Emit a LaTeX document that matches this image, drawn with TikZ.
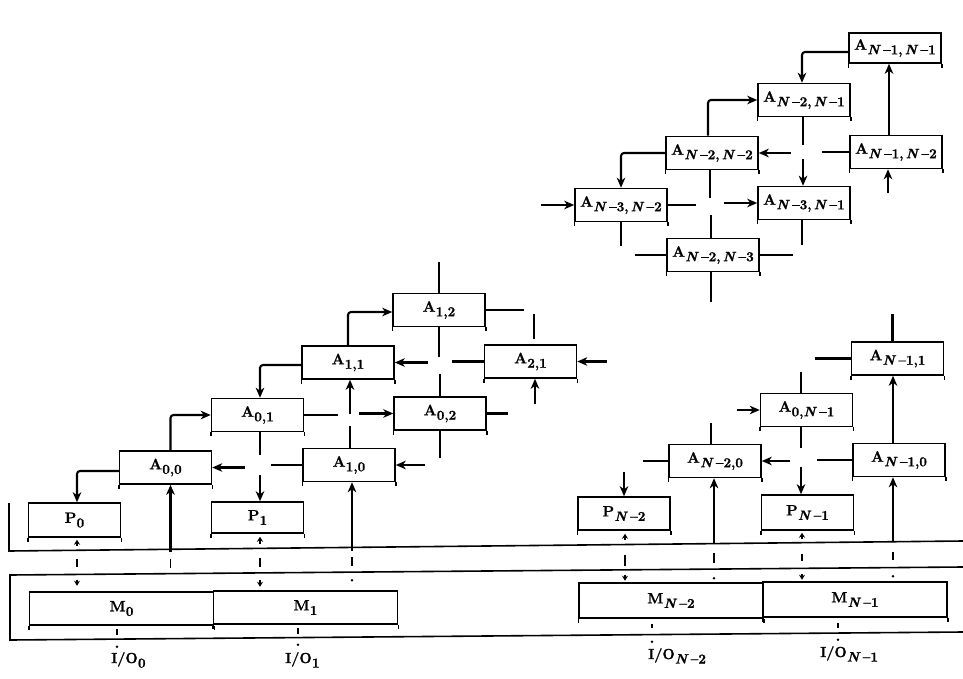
\documentclass[tikz,border=0pt]{standalone}
\usepackage{fontspec}
\setmainfont{Latin Modern Roman}[BoldFeatures={FakeBold=1.3},BoldItalicFeatures={FakeBold=1.3}]
\usetikzlibrary{arrows.meta}
\newcommand\albl[2]{{\fontsize{15}{15}\selectfont\bfseries #1}\kern0.3pt\raisebox{-4.5pt}{\fontsize{13.5}{14}\selectfont\bfseries #2}}
\newcommand\iolbl[1]{{\fontsize{14.5}{14.5}\selectfont\bfseries I/O}\kern0.3pt\raisebox{-4.5pt}{\fontsize{13.5}{13.5}\selectfont\bfseries #1}}
\newcommand\NN{\textit{N}\,\textendash}
\begin{document}
\begin{tikzpicture}[x=1pt,y=-1pt,
  >={Stealth[length=10pt,width=8.5pt,inset=3pt]},
  box/.style={draw,line width=1.5pt,minimum width=92pt,minimum height=33pt,inner sep=0pt},
  mbox/.style={box,minimum width=184pt},
  conn/.style={line width=2.1pt,rounded corners=3pt},
  bus/.style={line width=1.6pt},
  tiny/.style={line width=1.7pt,>={Stealth[length=5pt,width=6pt]}}
]
\useasboundingbox (0,0) rectangle (963,679);

% ---------- top-right cluster ----------
\node[box,minimum height=30pt] (tNN)  at (895,48)  {\albl{A}{\NN1,\,\NN1}};
\node[box] (tN2N1) at (804,100) {\albl{A}{\NN2,\,\NN1}};
\node[box] (tN2N2) at (712,153) {\albl{A}{\NN2,\,\NN2}};
\node[box] (tN1N2) at (896,152) {\albl{A}{\NN1,\,\NN2}};
\node[box] (tN3N2) at (621,205) {\albl{A}{\NN3,\,\NN2}};
\node[box] (tN3N1) at (804,203) {\albl{A}{\NN3,\,\NN1}};
\node[box] (tN2N3) at (713,255) {\albl{A}{\NN2,\,\NN3}};

% ---------- left cluster ----------
\node[box] (A00) at (165.5,467.5) {\albl{A}{0,0}};
\node[box] (A01) at (257.5,415)   {\albl{A}{0,1}};
\node[box] (A11) at (348,362.5)   {\albl{A}{1,1}};
\node[box] (A12) at (439,310)     {\albl{A}{1,2}};
\node[box] (A21) at (530.5,361.5) {\albl{A}{2,1}};
\node[box] (A02) at (440,413.5)   {\albl{A}{0,2}};
\node[box] (A10) at (349,465)     {\albl{A}{1,0}};
\node[box,minimum height=34pt] (P0) at (74.5,520)  {\albl{P}{0}};
\node[box,minimum height=31pt] (P1) at (257.5,517.5) {\albl{P}{1}};

% ---------- right lower cluster ----------
\node[box] (rN11) at (897.5,358.5) {\albl{A}{\NN1,1}};
\node[box] (rN0)  at (806.5,410)   {\albl{A}{0,\NN1}};
\node[box] (rN20) at (715,461)     {\albl{A}{\NN2,0}};
\node[box] (rN10) at (899,460)     {\albl{A}{\NN1,0}};
\node[box] (PN2)  at (624,513.5)   {\albl{P}{\NN2}};
\node[box,minimum height=35pt] (PN1) at (807.5,512.5) {\albl{P}{\NN1}};

% ---------- memories ----------
\node[mbox] (M0)  at (121.5,608.5) {\albl{M}{0}};
\node[mbox] (M1)  at (305.5,607.5) {\albl{M}{1}};
\node[mbox,minimum height=35pt] (MN2) at (671,600.5) {\albl{M}{\NN2}};
\node[mbox,minimum height=35pt] (MN1) at (855,599.5) {\albl{M}{\NN1}};

% I/O labels
\node[anchor=base west,inner sep=0pt] (io0)  at (111,663) {\iolbl{0}};
\node[anchor=base west,inner sep=0pt] (io1)  at (285,663) {\iolbl{1}};
\node[anchor=base west,inner sep=0pt] (ioN2) at (648,659) {\iolbl{\NN2}};
\node[anchor=base west,inner sep=0pt] (ioN1) at (820,657) {\iolbl{\NN1}};

% box bottom ticks
\foreach \n in {tNN,tN2N1,tN2N2,tN1N2,tN3N2,tN3N1,tN2N3,A00,A01,A11,A12,A21,A02,A10,P0,P1,rN11,rN0,rN20,rN10,PN2,PN1,M0,M1,MN2,MN1}
  \draw[line width=1.5pt] (\n.south west) -- ++(0,4) (\n.south east) -- ++(0,4);

% ---------- bus lines ----------
\draw[bus] (9,503) -- (9,551) -- (963,541);
\draw[bus] (963,567) -- (10,575) -- (10,640) -- (963,632);

% ---------- top-right connectors ----------
\draw[conn,->] ([shift={(0,4)}]tNN.west) -| ([shift={(-2,0)}]tN2N1.north);
\draw[conn,->] ([shift={(-4,0)}]tN2N2.north) |- (tN2N1.west);
\draw[conn,->] (tN2N2.west) -| (tN3N2.north);
\draw[conn,<-] (tN3N2.west) -- ++(-33,0);
\draw[conn] (tN3N2.east) -- ++(28,0);
\draw[conn,<-] (tN3N1.west) -- ++(-33,0);
\draw[conn] ([shift={(-1,0)}]tN2N1.south) -- ++(0,28);
\draw[conn,<-] ([shift={(-1,0)}]tN3N1.north) -- ++(0,-27);
\draw[conn,<-] (tN2N2.east) -- ++(32,0);
\draw[conn] (tN1N2.west) -- ++(-27,0);
\draw[conn,->] ([shift={(-7,0)}]tN1N2.north) -- ([shift={(-6,0)}]tNN.south);
\draw[conn,<-] ([shift={(-8,0)}]tN1N2.south) -- ++(0,24);
\draw[conn] ([shift={(-2,0)}]tN2N2.south) -- ++(0,28);
\draw[conn] ([shift={(-2,0)}]tN2N3.north) -- ++(0,-23);
\draw[conn] (tN3N2.south) -- ++(0,24);
\draw[conn] ([shift={(-2,0)}]tN3N1.south) -- ++(0,25);
\draw[conn] (tN2N3.west) -- ++(-31,0);
\draw[conn] (tN2N3.east) -- ++(33,0);
\draw[conn] ([shift={(-2,0)}]tN2N3.south) -- ++(0,30);

% ---------- left connectors ----------
\draw[conn,->] ([shift={(0,2.5)}]A11.west) -| ([shift={(2.5,0)}]A01.north);
\draw[conn,->] ([shift={(5,0)}]A00.north) |- (A01.west);
\draw[conn,->] ([shift={(0,3.5)}]A00.west) -| ([shift={(2.5,0)}]P0.north);
\draw[conn,<-] (A00.east) -- ++(33,0);
\draw[conn] (A10.west) -- ++(-31,0);
\draw[conn] (A01.east) -- ++(34,0);
\draw[conn,<-] (A02.west) -- ++(-34,0);
\draw[conn] ([shift={(2.5,0)}]A01.south) -- ++(0,23);
\draw[conn,<-] ([shift={(2.5,0)}]P1.north) -- ++(0,-26);
\draw[conn] ([shift={(1,0)}]A10.north) -- ++(0,-22);
\draw[conn,<-] ([shift={(2,0)}]A11.south) -- ++(0,34);
\draw[conn,->] (A11.north) |- ([shift={(0,2)}]A12.west);
\draw[conn] (A12.north) -- ++(0,-31);
\draw[conn] (A12.east) -- ++(38,0);
\draw[conn] (A12.south) -- ++(0,30);
\draw[conn] (A02.north) -- ++(0,-22);
\draw[conn,<-] (A11.east) -- ++(33,0);
\draw[conn] (A21.west) -- ++(-32,0);
\draw[conn] ([shift={(3.5,-5)}]A21.north) -- ++(0,-25);
\draw[conn,<-] (A21.east) -- ++(30,0);
\draw[conn,<-] ([shift={(4.5,0)}]A21.south) -- ++(0,25);
\draw[conn] (A02.east) -- ++(21,0);
\draw[conn] (A02.south) -- ++(0,27);
\draw[conn,<-] (A10.east) -- ++(29,0);
\draw[conn,<-] ([shift={(3,0)}]A10.south) -- ++(0,69);
\draw[conn,<-] ([shift={(5,0)}]A00.south) -- ++(0,67);

% ---------- right lower connectors ----------
\draw[conn] ([shift={(-5,0)}]rN11.north) -- ++(0,-27);
\draw[conn] (rN11.west) -- ++(-36,0);
\draw[conn,->] ([shift={(-6,0)}]rN10.north) -- ([shift={(-4.5,0)}]rN11.south);
\draw[conn] ([shift={(-5.5,0)}]rN0.north) -- ++(0,-21);
\draw[conn,<-] (rN0.west) -- ++(-23,0);
\draw[conn] ([shift={(-5.5,0)}]rN0.south) -- ++(0,21);
\draw[conn,<-] ([shift={(-6.5,0)}]PN1.north) -- ++(0,-27);
\draw[conn] ([shift={(-4,0)}]rN20.north) -- ++(0,-21);
\draw[conn] (rN20.west) -- ++(-25,0);
\draw[conn,<-] (rN20.east) -- ++(28,0);
\draw[conn] (rN10.west) -- ++(-35,0);
\draw[conn,<-] ([shift={(-1,0)}]rN20.south) -- ++(0,65);
\draw[conn,<-] ([shift={(-6,0)}]rN10.south) -- ++(0,65);
\draw[conn,<-] (PN2.north) -- ++(0,-24);

% ---------- bus crossings ----------
\draw[tiny,<-] ([shift={(2.5,2)}]P0.south) -- ++(0,6);
\draw[tiny] ([shift={(2.5,21)}]P0.south) -- ++(0,8);
\draw[tiny,->] ([shift={(2.5,42)}]P0.south) -- ++(0,6);
\draw[tiny] ([shift={(5,74)}]A00.south) -- ++(0,9);
\draw[tiny,<-] ([shift={(2.5,3)}]P1.south) -- ++(0,7);
\draw[tiny] ([shift={(2.5,24)}]P1.south) -- ++(0,9);
\draw[tiny,->] ([shift={(2.5,46)}]P1.south) -- ++(0,7);
\draw[tiny] ([shift={(3,75)}]A10.south) -- ++(0,9);
\fill ([shift={(3,98)}]A10.south) circle (1.4);
\draw[tiny,<-] ([shift={(1,3)}]PN2.south) -- ++(0,6);
\draw[tiny] ([shift={(1,24)}]PN2.south) -- ++(0,11);
\draw[tiny,->] ([shift={(1,44)}]PN2.south) -- ++(0,6);
\draw[tiny] ([shift={(-1,75)}]rN20.south) -- ++(0,10);
\fill ([shift={(-1,100)}]rN20.south) circle (1.4);
\draw[tiny,<-] ([shift={(-5.5,2)}]PN1.south) -- ++(0,6);
\draw[tiny] ([shift={(-5.5,23)}]PN1.south) -- ++(0,7);
\draw[tiny,->] ([shift={(-5.5,43)}]PN1.south) -- ++(0,6);
\draw[tiny] ([shift={(-6,75)}]rN10.south) -- ++(0,8);
\fill ([shift={(-6,99)}]rN10.south) circle (1.4);

% ---------- memory to I/O ----------
\draw[tiny] ([shift={(-4.5,3)}]M0.south) -- ++(0,6);
\fill ([shift={(-4.5,21)}]M0.south) circle (1.4);
\draw[tiny] ([shift={(-7.5,3)}]M1.south) -- ++(0,6);
\fill ([shift={(-7.5,20)}]M1.south) circle (1.4);
\draw[tiny] ([shift={(-19,5)}]MN2.south) -- ++(0,4);
\fill ([shift={(-19,23)}]MN2.south) circle (1.4);
\draw[tiny] ([shift={(-17,5)}]MN1.south) -- ++(0,5);
\fill ([shift={(-17,22)}]MN1.south) circle (1.4);
\end{tikzpicture}
\end{document}
